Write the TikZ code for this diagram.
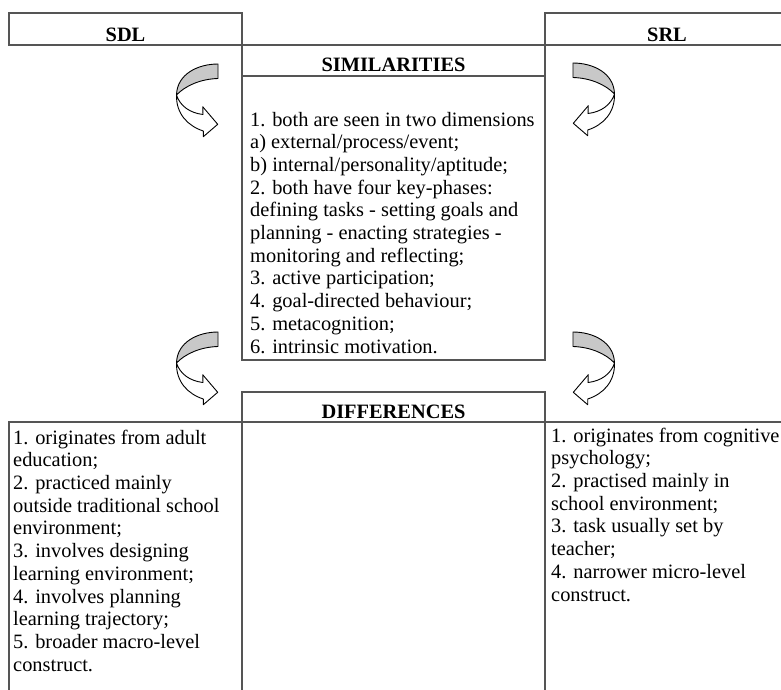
\documentclass[tikz,border=0pt]{standalone}
\usepackage{fontspec}
\setmainfont{Liberation Serif}
\usetikzlibrary{positioning}
\definecolor{linegray}{RGB}{85, 85, 85}
\definecolor{swoopgray}{RGB}{200, 200, 200}
\newcommand{\diagfont}{\fontsize{20.4}{22.7}\selectfont}

\tikzset{
    pics/swoop/.style={code={
        % lower white half with the head
        \draw[black, line width=0.9pt, fill=white, line join=round]
            (-41.5,31) .. controls (-38,42) and (-28,49) .. (-15,50.5)
            -- (-15.3,42.7) -- (-0.3,60.3) -- (-14.7,72.7) -- (-14.7,67)
            .. controls (-30,62) and (-42,50) .. cycle;
        % upper grey band
        \draw[black, line width=0.9pt, fill=swoopgray, line join=round]
            (0,0) .. controls (-20,0) and (-41,10) .. (-41.5,31)
            .. controls (-33,22) and (-18,15) .. (0,14.5) -- cycle;
    }}
}

\begin{document}
\begin{tikzpicture}[
        x=1pt, y=-1pt,
        box/.style={draw=linegray, line width=1.2pt, inner sep=0pt},
        head/.style={box, font=\diagfont\bfseries, minimum width=#1},
        body/.style={anchor=north west, inner sep=0pt, align=left, font=\diagfont}
    ]
        \useasboundingbox (0,0) rectangle (781,689);
        \clip (0,0) rectangle (781,689);

        % Top headers
        \node[head=233pt, text height=28pt, text depth=4pt] (sdl) at (125.5,29) {SDL};
        \node[head=244pt, text height=28pt, text depth=4pt] (srl) at (667,29) {SRL};

        % Similarities
        \node[head=303pt, text height=26pt, text depth=5pt] (simhead) at (393.5,60.5) {SIMILARITIES};
        \node[box, minimum width=303pt, minimum height=284pt] (simbox) at (393.5,218) {};
        \node[body] (simtext) at (250,110) {\strut 1. both are seen in two dimensions\\
            a) external/process/event;\\
            b) internal/personality/aptitude;\\
            2. both have four key-phases:\\
            defining tasks - setting goals and\\
            planning - enacting strategies -\\
            monitoring and reflecting;\\
            3. active participation;\\
            4. goal-directed behaviour;\\
            5. metacognition;\\
            6. intrinsic motivation.};

        % Differences
        \node[head=303pt, text height=26pt, text depth=4pt] (diffhead) at (393.5,407) {DIFFERENCES};
        \node[box, minimum width=233pt, minimum height=288pt] (sdlbox) at (125.5,566) {};
        \node[box, minimum width=244pt, minimum height=288pt] (srlbox) at (667,566) {};
        \node[body] (sdltext) at (13,428) {\strut 1. originates from adult\\
            education;\\
            2. practiced mainly\\
            outside traditional school\\
            environment;\\
            3. involves designing\\
            learning environment;\\
            4. involves planning\\
            learning trajectory;\\
            5. broader macro-level\\
            construct.};
        \node[body] (srltext) at (551,426) {\strut 1. originates from cognitive\\
            psychology;\\
            2. practised mainly in\\
            school environment;\\
            3. task usually set by\\
            teacher;\\
            4. narrower micro-level\\
            construct.};

        % Curved arrows
        \pic at (218,64) {swoop};
        \pic[xscale=-1] at (573,63) {swoop};
        \pic at (218,332) {swoop};
        \pic[xscale=-1] at (573,332) {swoop};
    \end{tikzpicture}
\end{document}
